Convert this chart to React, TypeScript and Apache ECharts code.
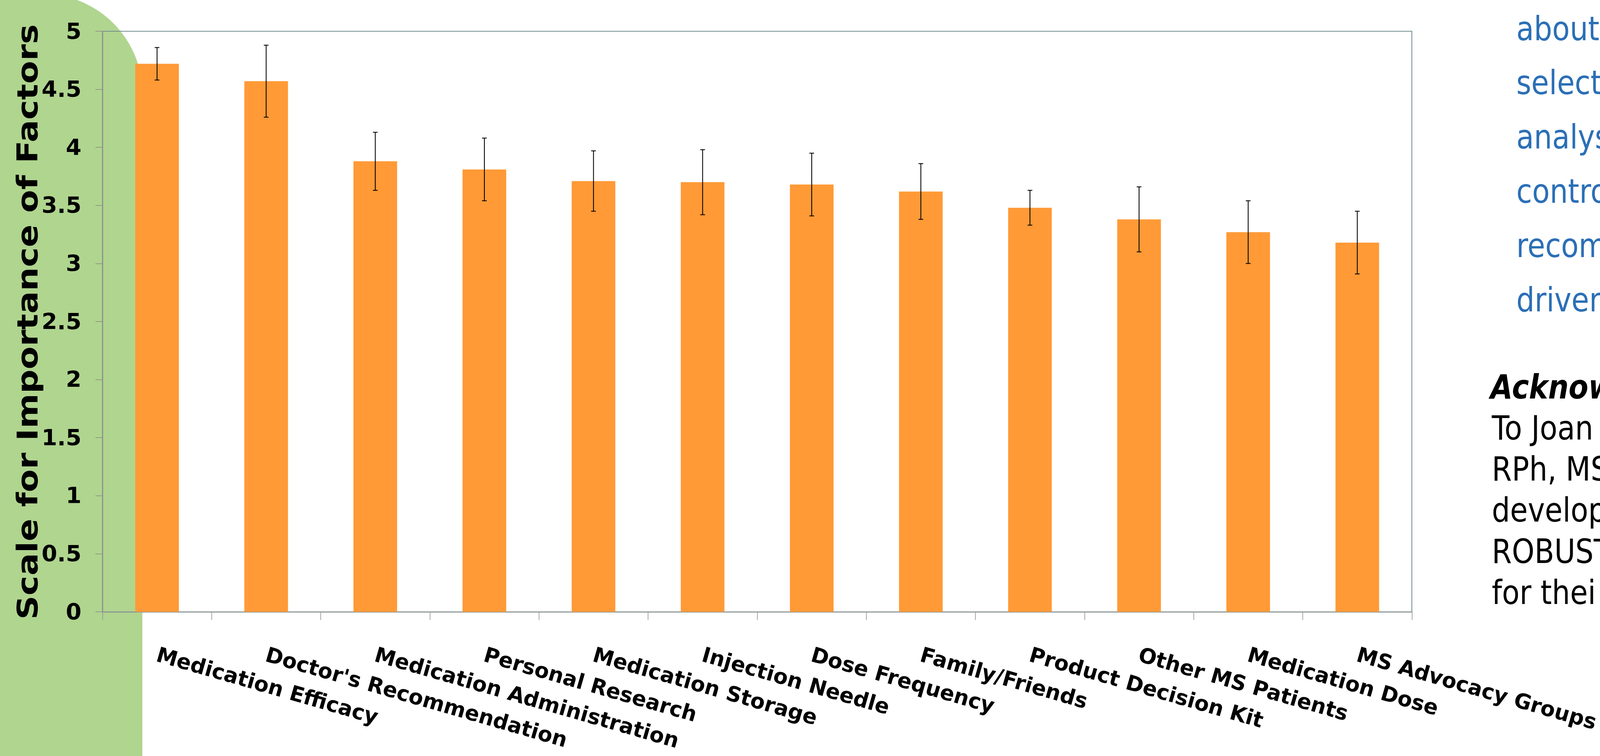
import React, { useEffect, useRef } from "react";
import * as echarts from "echarts";

const categories = [
  "Medication Efficacy",
  "Doctor's Recommendation",
  "Medication Administration",
  "Personal Research",
  "Medication Storage",
  "Injection Needle",
  "Dose Frequency",
  "Family/Friends",
  "Product Decision Kit",
  "Other MS Patients",
  "Medication Dose",
  "MS Advocacy Groups",
];
const means = [4.72, 4.57, 3.88, 3.81, 3.71, 3.7, 3.68, 3.62, 3.48, 3.38, 3.27, 3.18];
const errors = [0.14, 0.31, 0.25, 0.27, 0.26, 0.28, 0.27, 0.24, 0.15, 0.28, 0.27, 0.27];
const yMin = 0;
const yMax = 5;
const yInterval = 0.5;
const yTitle = "Scale for Importance of Factors";
const blueLines = ["about", "select", "analys", "contro", "recom", "driven"];
const ackTitle = "Acknow";
const ackLines = ["To Joan", "RPh, MS", "develop", "ROBUST", "for thei"];

const REF_W = 4777;
const REF_H = 1935;
const FONT = '"DejaVu Sans", Verdana, sans-serif';

export default function App() {
  const ref = useRef<HTMLDivElement>(null);
  useEffect(() => {
    const el = ref.current;
    if (!el) return;
    const w = el.clientWidth || window.innerWidth;
    const h = el.clientHeight || window.innerHeight;
    const sx = w / REF_W;
    const sy = h / REF_H;
    const stretch = sy / sx;
    const X = (v: number) => v * sx;
    const Y = (v: number) => v * sy;
    const F = (v: number) => v * sx;

    const chart = echarts.init(el, null, { renderer: "svg" });

    // green rounded panel on the left
    const pts: number[][] = [[X(-10), Y(-16)]];
    const cx = 125, cy = 238, rx = 300, ry = 254;
    for (let i = 0; i <= 40; i++) {
      const t = Math.PI / 2 - (i / 40) * (Math.PI / 2);
      pts.push([X(cx + rx * Math.cos(t)), Y(cy - ry * Math.sin(t))]);
    }
    pts.push([X(425), Y(REF_H + 10)], [X(-10), Y(REF_H + 10)]);

    const errData = means.map((m, i) => [i, m - errors[i], m + errors[i]]);

    const graphics: any[] = [
      {
        type: "polygon",
        z: -10,
        shape: { points: pts },
        style: { fill: "#b0d58f" },
        silent: true,
      },
      {
        type: "text",
        x: X(83),
        y: Y(824),
        rotation: Math.PI / 2,
        scaleX: stretch,
        z: 10,
        style: {
          text: yTitle,
          fill: "#000",
          font: `bold ${F(86)}px ${FONT}`,
          textAlign: "center",
          textVerticalAlign: "middle",
        },
      },
    ];
    blueLines.forEach((t, i) => {
      graphics.push({
        type: "text",
        x: X(4527),
        y: Y(73 + i * 138.8),
        scaleY: stretch,
        style: {
          text: t,
          fill: "#2b6fb6",
          font: `${F(86)}px ${FONT}`,
          textAlign: "left",
          textVerticalAlign: "middle",
        },
      });
    });
    graphics.push({
      type: "text",
      x: X(4450),
      y: Y(990),
      scaleY: stretch,
      style: {
        text: ackTitle,
        fill: "#000",
        font: `italic bold ${F(86)}px ${FONT}`,
        textAlign: "left",
        textVerticalAlign: "middle",
      },
    });
    ackLines.forEach((t, i) => {
      graphics.push({
        type: "text",
        x: X(4454),
        y: Y(1095 + i * 105.4),
        scaleY: stretch,
        style: {
          text: t,
          fill: "#000",
          font: `${F(86)}px ${FONT}`,
          textAlign: "left",
          textVerticalAlign: "middle",
        },
      });
    });

    chart.setOption({
      animation: false,
      backgroundColor: "#ffffff",
      graphic: graphics,
      grid: {
        left: X(306),
        top: Y(80),
        width: X(3917),
        height: Y(1486),
        show: true,
        borderColor: "#748e8e",
        borderWidth: F(2.5),
        backgroundColor: "transparent",
      },
      xAxis: {
        type: "category",
        data: categories,
        boundaryGap: true,
        axisLine: { show: true, lineStyle: { color: "#8b9595", width: F(3) } },
        axisTick: {
          show: true,
          alignWithLabel: false,
          length: Y(21),
          lineStyle: { color: "#9a9a9a", width: F(2) },
        },
        axisLabel: {
          interval: 0,
          rotate: -16,
          margin: Y(108),
          color: "#000",
          fontFamily: FONT,
          fontWeight: "bold",
          fontSize: F(63),
        },
        splitLine: { show: false },
      },
      yAxis: {
        type: "value",
        min: yMin,
        max: yMax,
        interval: yInterval,
        axisLine: { show: true, lineStyle: { color: "#8e8e8e", width: F(2.5) } },
        axisTick: { show: true, length: X(21), lineStyle: { color: "#8e8e8e", width: F(2) } },
        axisLabel: {
          margin: X(63),
          color: "#000",
          fontFamily: FONT,
          fontWeight: "bold",
          fontSize: F(67),
        },
        splitLine: { show: false },
      },
      series: [
        {
          type: "bar",
          data: means,
          barWidth: "40%",
          itemStyle: { color: "#ff9a36" },
          z: 2,
        },
        {
          type: "custom",
          data: errData,
          z: 5,
          renderItem: (params: any, api: any) => {
            const x = api.value(0);
            const lo = api.coord([x, api.value(1)]);
            const hi = api.coord([x, api.value(2)]);
            const hw = X(7);
            const st = { stroke: "#000", lineWidth: F(2.5) };
            return {
              type: "group",
              children: [
                { type: "line", shape: { x1: hi[0], y1: hi[1], x2: lo[0], y2: lo[1] }, style: st },
                { type: "line", shape: { x1: hi[0] - hw, y1: hi[1], x2: hi[0] + hw, y2: hi[1] }, style: st },
                { type: "line", shape: { x1: lo[0] - hw, y1: lo[1], x2: lo[0] + hw, y2: lo[1] }, style: st },
              ],
            };
          },
        },
      ],
    });
    return () => chart.dispose();
  }, []);
  return (
    <div
      ref={ref}
      style={{ position: "fixed", left: 0, top: 0, width: "100vw", height: "100vh", overflow: "hidden" }}
    />
  );
}
